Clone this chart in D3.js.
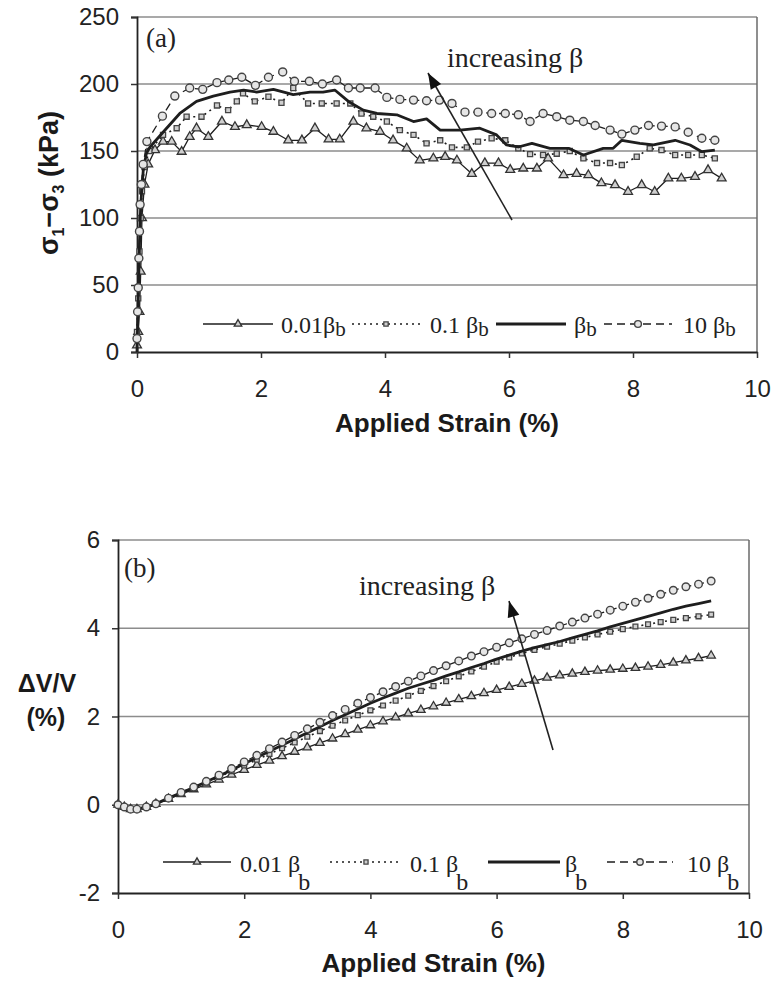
<!DOCTYPE html>
<html>
<head>
<meta charset="utf-8">
<script src="https://cdn.jsdelivr.net/npm/d3@7/dist/d3.min.js"></script>
<style>
  body { margin: 0; background: #fff; }
</style>
</head>
<body>
<svg id="fig" width="773" height="984"></svg>
<script>
// ---- panel (a): deviator stress vs applied strain ----
const a_x_001 = [0,0.02,0.04,0.06,0.08,0.12,0.18,0.29,0.42,0.56,0.72,0.85,0.96,1.15,1.37,1.58,1.77,2.01,2.2,2.44,2.66,2.87,3.09,3.27,3.49,3.7,3.92,4.13,4.35,4.56,4.78,4.97,5.16,5.4,5.61,5.83,6.02,6.23,6.45,6.63,6.88,7.09,7.28,7.49,7.71,7.92,8.14,8.35,8.57,8.78,9.0,9.21,9.43];
const a_y_001 = [5,15,30,60,100,125,140,150.7,157,157,149.5,160.6,167,160.6,172,168,169.4,168,164.4,158,158,167,158.7,158.7,172,167,164.4,158,152,143,144.5,145.7,143,133,141,141,136,137,137,144.5,132,133,132,126,124.6,119.6,124.6,119.6,129.6,129.6,130.8,135.8,129.6];

const a_x_01 = [0,0.02,0.04,0.06,0.08,0.12,0.2,0.42,0.64,0.8,1.04,1.29,1.47,1.61,1.71,1.9,2.12,2.33,2.52,2.76,2.98,3.22,3.44,3.62,3.81,4.03,4.24,4.46,4.67,4.89,5.08,5.32,5.5,5.72,5.94,6.15,6.34,6.55,6.77,6.98,7.2,7.42,7.63,7.82,8.06,8.27,8.46,8.68,8.89,9.11,9.32];
const a_y_01 = [15,40,75,100,120,138,150,162,167,175.6,175.6,184,180.5,187,193,187,190.5,186,197,185.5,185.5,185.5,185.5,178,175.6,172,165.6,162,155.7,158,152.7,152.7,157,159.5,158,152,147.7,147,148,150,144.5,141,141,139.5,145.7,152,150.7,147,147,147,144.5];

const a_x_1 = [0,0.02,0.04,0.06,0.1,0.15,0.21,0.42,0.69,0.96,1.23,1.5,1.72,1.93,2.2,2.52,2.79,3.0,3.19,3.41,3.65,3.87,4.19,4.46,4.67,4.89,5.21,5.53,5.8,5.96,6.15,6.37,6.66,6.96,7.2,7.52,7.68,7.82,8.11,8.33,8.68,8.92,9.11,9.32];
const a_y_1 = [0,40,80,110,135,148,153,164,178,187,191,194,195.5,194,196,192,194,194,195.5,187,180.5,178,177,172,174,165.6,165.6,167,162,154.5,153,155.7,152,152,147,152,152,158,155.7,154.5,158,154.5,149.5,150.7];

const a_x_10 = [0,0.01,0.02,0.03,0.04,0.05,0.07,0.1,0.16,0.41,0.61,0.85,1.06,1.29,1.48,1.69,1.91,2.12,2.35,2.54,2.78,2.99,3.22,3.41,3.6,3.84,4.03,4.24,4.46,4.67,4.88,5.08,5.29,5.5,5.72,5.94,6.15,6.34,6.55,6.77,6.98,7.2,7.39,7.63,7.82,8.03,8.25,8.46,8.68,8.89,9.11,9.32];
const a_y_10 = [10,30,48,70,90,110,125,140,157,176,191,197,196,201,203,205,199,205,209,202,202,200,203,197,197,197,190,188.5,188,187.5,188,185.5,179,179,178,178,177,172,178,175.6,173,172,169,165.6,162.6,165.6,169,168.6,168,164,159.5,158];

// ---- panel (b): volumetric strain vs applied strain ----
const b_strain = [0,0.1,0.2,0.3,0.45,0.6,0.8,1.0,1.2,1.4,1.6,1.8,2.0,2.2,2.4,2.6,2.8,3.0,3.2,3.4,3.6,3.8,4.0,4.2,4.4,4.6,4.8,5.0,5.2,5.4,5.6,5.8,6.0,6.2,6.4,6.6,6.8,7.0,7.2,7.4,7.6,7.8,8.0,8.2,8.4,8.6,8.8,9.0,9.2,9.4];
const b_dv_001 = [0,-0.05,-0.1,-0.1,-0.05,0.02,0.13,0.24,0.35,0.46,0.57,0.68,0.79,0.9,1.0,1.1,1.2,1.3,1.4,1.5,1.6,1.7,1.8,1.89,1.98,2.07,2.15,2.23,2.31,2.39,2.46,2.53,2.6,2.67,2.74,2.81,2.88,2.93,2.97,3.01,3.04,3.06,3.08,3.1,3.13,3.17,3.22,3.27,3.32,3.38];
const b_dv_01 = [0,-0.05,-0.1,-0.1,-0.05,0.02,0.14,0.26,0.38,0.5,0.63,0.76,0.89,1.02,1.15,1.28,1.41,1.54,1.67,1.79,1.91,2.03,2.14,2.25,2.36,2.47,2.58,2.69,2.8,2.91,3.02,3.13,3.24,3.34,3.43,3.51,3.58,3.65,3.72,3.79,3.86,3.92,3.98,4.04,4.09,4.14,4.19,4.23,4.27,4.31];
const b_dv_1 = [0,-0.05,-0.1,-0.1,-0.05,0.02,0.15,0.27,0.39,0.52,0.65,0.79,0.93,1.07,1.21,1.35,1.49,1.63,1.77,1.91,2.04,2.17,2.3,2.42,2.53,2.64,2.73,2.82,2.92,3.01,3.11,3.2,3.3,3.39,3.48,3.56,3.63,3.7,3.78,3.86,3.94,4.03,4.11,4.19,4.27,4.35,4.43,4.5,4.56,4.62];
const b_dv_10 = [0,-0.05,-0.1,-0.1,-0.05,0.02,0.15,0.28,0.4,0.53,0.67,0.82,0.97,1.12,1.27,1.42,1.57,1.72,1.87,2.02,2.16,2.3,2.43,2.56,2.68,2.8,2.92,3.04,3.15,3.26,3.37,3.47,3.57,3.67,3.76,3.86,3.95,4.05,4.14,4.23,4.32,4.41,4.5,4.59,4.68,4.77,4.86,4.94,5.0,5.07];

const xTicks = [0,2,4,6,8,10];
const yTicksA = [0,50,100,150,200,250];
const yTicksB = [-2,0,2,4,6];
const legendLabelsA = ["0.01", "0.1 ", "", "10 "];
const legendLabelsB = ["0.01 ", "0.1 ", "", "10 "];

const SANS = "'Liberation Sans', Arial, sans-serif";
const SERIF = "'Liberation Serif', 'Times New Roman', serif";

// line / marker look of the four runs
const styles = [
    {dash: null, width: 1.3, marker: "tri"},
    {dash: "2,4", width: 1.6, marker: "sq"},
    {dash: null, width: 2.8, marker: null},
    {dash: "8,5", width: 1.3, marker: "circ"}
];

var svg = d3.select("#fig");

function addMarker(g, kind, cx, cy, scale) {
    if (kind == "circ") {
        g.append("circle").attr("cx", cx).attr("cy", cy).attr("r", 4 * scale)
            .attr("fill", "#e6e6e6").attr("stroke", "#444").attr("stroke-width", 1.4);
    } else if (kind == "tri") {
        g.append("path").attr("d", d3.symbol(d3.symbolTriangle, 34 * scale * scale)())
            .attr("transform", `translate(${cx},${cy})`)
            .attr("fill", "#cfcfcf").attr("stroke", "#333").attr("stroke-width", 1.3);
    } else if (kind == "sq") {
        g.append("path").attr("d", d3.symbol(d3.symbolSquare, 26 * scale * scale)())
            .attr("transform", `translate(${cx},${cy})`)
            .attr("fill", "#cfcfcf").attr("stroke", "#444").attr("stroke-width", 1.3);
    }
}

function drawPanel(p) {
    const x = d3.scaleLinear().domain([0, 10]).range([p.left, p.right]);
    const y = d3.scaleLinear().domain(p.yDomain).range([p.bottom, p.top]);
    const g = svg.append("g");

    // horizontal grid + top border
    g.append("g").selectAll("line")
        .data(p.yTicks.slice(1))
        .join("line")
        .attr("x1", p.left).attr("x2", p.right)
        .attr("y1", d => y(d)).attr("y2", d => y(d))
        .attr("stroke", "#8c8c8c").attr("stroke-width", 1.3);
    g.append("line")
        .attr("x1", p.right).attr("x2", p.right)
        .attr("y1", p.top).attr("y2", p.bottom)
        .attr("stroke", "#6a6a6a").attr("stroke-width", 1.5);

    // axes
    const ya = g.append("g")
        .attr("transform", `translate(${p.left},0)`)
        .call(d3.axisLeft(y).tickValues(p.yTicks).tickSize(6).tickPadding(p.yPad).tickFormat(d => String(d)));
    const xa = g.append("g")
        .attr("transform", `translate(0,${p.bottom})`)
        .call(d3.axisBottom(x).tickValues(xTicks).tickSize(6).tickPadding(p.xPad).tickSizeOuter(0).tickFormat(d => String(d)));
    [ya, xa].forEach(a => {
        a.select(".domain").attr("stroke", "#222").attr("stroke-width", 1.8);
        a.selectAll(".tick line").attr("stroke", "#333").attr("stroke-width", 1.5);
        a.selectAll(".tick text").attr("font-family", SANS).attr("font-size", "24px").attr("fill", "#222");
    });

    // series
    p.series.forEach((s, i) => {
        const st = styles[i];
        const pts = s.xs.map((v, k) => [v, s.ys[k]]);
        g.append("path")
            .datum(pts)
            .attr("fill", "none")
            .attr("stroke", "#1e1e1e")
            .attr("stroke-width", st.width)
            .attr("stroke-dasharray", st.dash)
            .attr("stroke-linejoin", "round")
            .attr("d", d3.line().x(d => x(d[0])).y(d => y(d[1])));
        if (st.marker) {
            const mg = g.append("g");
            pts.forEach(d => addMarker(mg, st.marker, x(d[0]), y(d[1]), p.markerScale));
        }
    });

    // panel tag
    g.append("text").attr("x", p.tag[0]).attr("y", p.tag[1])
        .attr("font-family", SERIF).attr("font-size", "27px").attr("fill", "#222")
        .text(p.tagText);

    // arrow + note
    g.append("text").attr("x", p.note[0]).attr("y", p.note[1])
        .attr("font-family", SERIF).attr("font-size", "28px").attr("fill", "#222")
        .text("increasing β");
    const [x1, y1, x2, y2] = p.arrow;
    g.append("line").attr("x1", x1).attr("y1", y1).attr("x2", x2).attr("y2", y2)
        .attr("stroke", "#222").attr("stroke-width", 1.6);
    const ang = Math.atan2(y2 - y1, x2 - x1);
    const hl = 16, hw = 6;
    const bx = x2 - hl * Math.cos(ang), by = y2 - hl * Math.sin(ang);
    g.append("path")
        .attr("d", `M${x2},${y2}L${bx - hw * Math.sin(ang)},${by + hw * Math.cos(ang)}L${bx + hw * Math.sin(ang)},${by - hw * Math.cos(ang)}Z`)
        .attr("fill", "#111");

    // axis titles
    g.append("text")
        .attr("x", (p.left + p.right) / 2 + p.xTitle[0]).attr("y", p.xTitle[1])
        .attr("text-anchor", "middle")
        .attr("font-family", SANS).attr("font-size", "26px").attr("font-weight", "bold").attr("fill", "#1a1a1a")
        .text("Applied Strain (%)");
    p.yTitle(g);

    // legend
    const lg = g.append("g");
    p.legend.forEach((it, i) => {
        const st = styles[i];
        lg.append("line").attr("x1", it.l0).attr("x2", it.l1)
            .attr("y1", p.legendY).attr("y2", p.legendY)
            .attr("stroke", "#1e1e1e").attr("stroke-width", st.width)
            .attr("stroke-dasharray", st.dash);
        if (st.marker) addMarker(lg, st.marker, (it.l0 + it.l1) / 2, p.legendY, p.markerScale * 0.85);
        const t = lg.append("text").attr("x", it.tx).attr("y", p.legendTextY)
            .attr("font-family", SERIF).attr("font-size", "24px").attr("fill", "#222");
        t.append("tspan").text(p.labels[i] + "β");
        t.append("tspan").attr("dx", p.subDx).attr("dy", p.subDy).attr("font-size", p.subSize).text("b");
    });
}

drawPanel({
    left: 137, right: 757, top: 17, bottom: 352,
    yDomain: [0, 250], yTicks: yTicksA, yPad: 12, xPad: 22,
    series: [
        {xs: a_x_001, ys: a_y_001},
        {xs: a_x_01, ys: a_y_01},
        {xs: a_x_1, ys: a_y_1},
        {xs: a_x_10, ys: a_y_10}
    ],
    markerScale: 1,
    tag: [146, 47], tagText: "(a)",
    note: [447, 67], arrow: [512, 220, 428, 73],
    xTitle: [0, 432],
    yTitle: function(g) {
        const t = g.append("text")
            .attr("transform", "translate(58,183) rotate(-90)")
            .attr("text-anchor", "middle")
            .attr("font-family", SANS).attr("font-size", "27px").attr("font-weight", "bold").attr("fill", "#1a1a1a");
        t.append("tspan").text("σ");
        t.append("tspan").attr("font-size", "16px").attr("dy", 6).text("1");
        t.append("tspan").attr("dy", -6).text("−σ");
        t.append("tspan").attr("font-size", "16px").attr("dy", 6).text("3");
        t.append("tspan").attr("dy", -6).text(" (kPa)");
    },
    labels: legendLabelsA,
    legendY: 324, legendTextY: 333, subDx: 0, subDy: 3, subSize: "21px",
    legend: [
        {l0: 203, l1: 273, tx: 281},
        {l0: 352, l1: 420, tx: 430},
        {l0: 496, l1: 566, tx: 574},
        {l0: 604, l1: 672, tx: 683}
    ]
});

drawPanel({
    left: 118, right: 749, top: 540, bottom: 893,
    yDomain: [-2, 6], yTicks: yTicksB, yPad: 12, xPad: 22,
    series: [
        {xs: b_strain, ys: b_dv_001},
        {xs: b_strain, ys: b_dv_01},
        {xs: b_strain, ys: b_dv_1},
        {xs: b_strain, ys: b_dv_10}
    ],
    markerScale: 0.95,
    tag: [124, 577], tagText: "(b)",
    note: [359, 595], arrow: [553, 750, 509, 601],
    xTitle: [0, 972],
    yTitle: function(g) {
        g.append("text").attr("x", 47).attr("y", 692)
            .attr("text-anchor", "middle")
            .attr("font-family", SANS).attr("font-size", "25px").attr("font-weight", "bold").attr("fill", "#1a1a1a")
            .text("ΔV/V");
        g.append("text").attr("x", 46).attr("y", 726)
            .attr("text-anchor", "middle")
            .attr("font-family", SANS).attr("font-size", "25px").attr("font-weight", "bold").attr("fill", "#1a1a1a")
            .text("(%)");
    },
    labels: legendLabelsB,
    legendY: 862, legendTextY: 872, subDx: -2, subDy: 18, subSize: "24px",
    legend: [
        {l0: 163, l1: 231, tx: 240},
        {l0: 330, l1: 402, tx: 410},
        {l0: 488, l1: 560, tx: 565},
        {l0: 607, l1: 673, tx: 687}
    ]
});
</script>
</body>
</html>
